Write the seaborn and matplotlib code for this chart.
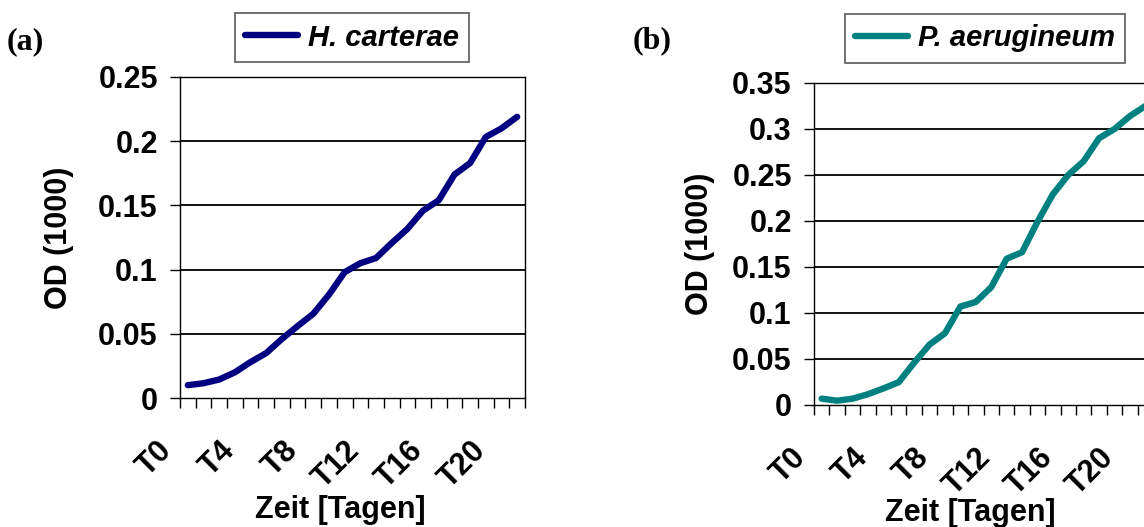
import numpy as np
import pandas as pd
import matplotlib
matplotlib.use("Agg")
import matplotlib.pyplot as plt
import matplotlib.transforms as mtransforms
import seaborn as sns

# Sampling days
days = ["T0", "T1", "T2", "T3", "T4", "T5", "T6", "T7", "T8", "T9", "T10",
        "T11", "T12", "T13", "T14", "T15", "T16", "T17", "T18", "T19", "T20", "T21"]
shown_days = ["T0", "T4", "T8", "T12", "T16", "T20"]

# Optical density readings per culture
h_carterae = [0.010, 0.0115, 0.0144, 0.020, 0.028, 0.035, 0.046, 0.056, 0.0656, 0.0805,
              0.098, 0.105, 0.109, 0.1207, 0.1317, 0.146, 0.154, 0.174, 0.183, 0.2033,
              0.210, 0.219]
p_aerugineum = [0.0069, 0.0047, 0.0069, 0.0117, 0.018, 0.0248, 0.046, 0.0657, 0.078, 0.107,
                0.112, 0.128, 0.159, 0.166, 0.199, 0.229, 0.250, 0.265, 0.290, 0.300,
                0.314, 0.325]

yticks_a = [0, 0.05, 0.1, 0.15, 0.2, 0.25]
ylabels_a = ["0", "0.05", "0.1", "0.15", "0.2", "0.25"]
yticks_b = [0, 0.05, 0.1, 0.15, 0.2, 0.25, 0.3, 0.35]
ylabels_b = ["0", "0.05", "0.1", "0.15", "0.2", "0.25", "0.3", "0.35"]

sns.set_theme(style="white")
plt.rcParams["font.family"] = ["Liberation Sans", "DejaVu Sans"]
plt.rcParams["font.weight"] = "bold"
for key in ("text.color", "axes.labelcolor", "xtick.color", "ytick.color"):
    plt.rcParams[key] = "black"

W, H = 1144, 527
fig = plt.figure(figsize=(W / 100, H / 100), dpi=100)


def px_axes(x0, y0, x1, y1):
    return fig.add_axes([x0 / W, 1 - y1 / H, (x1 - x0) / W, (y1 - y0) / H])


ax_a = px_axes(180, 77, 525, 398)
ax_b = px_axes(814, 83, 1153, 405)

panels = [
    (ax_a, h_carterae, "#000080", "H. carterae", yticks_a, ylabels_a, (352, 37.5), "(a)", (7, 42)),
    (ax_b, p_aerugineum, "#008080", "P. aerugineum", yticks_b, ylabels_b, (985, 38.5), "(b)", (633, 41)),
]

FS = 22

for ax, values, color, name, yt, yl, leg_c, tag, tag_pos in panels:
    df = pd.DataFrame({"Tag": days, "OD": values})
    sns.lineplot(data=df, x="Tag", y="OD", ax=ax, color=color, linewidth=4.6,
                 solid_capstyle="round", label=name, sort=False)

    ax.set_xlim(-0.5, len(days) - 0.5)
    ax.set_ylim(yt[0], yt[-1])
    ax.set_yticks(yt)
    ax.set_yticklabels(yl, fontsize=FS, fontweight="bold")
    ax.grid(False)
    for v in yt[1:]:
        ax.axhline(v, color="black", linewidth=1.3, zorder=1)

    # category labels at bin centres, tick marks on the bin edges
    ax.set_xticks(range(len(days)))
    ax.set_xticklabels([d if d in shown_days else "" for d in days],
                       fontsize=FS, fontweight="bold", rotation=45,
                       ha="right", va="top", rotation_mode="anchor")
    ax.set_xticks(np.arange(-0.5, len(days), 1.0), minor=True)
    ax.tick_params(axis="x", which="major", length=0, pad=27)
    ax.tick_params(axis="x", which="minor", length=7, width=1.0, color="black",
                   direction="out", bottom=True)
    ax.tick_params(axis="y", which="major", length=7, width=1.0, color="black",
                   direction="out", left=True, pad=9)
    shift = mtransforms.ScaledTranslation(-0.31, 0, fig.dpi_scale_trans)
    for lab in ax.get_xticklabels():
        lab.set_transform(lab.get_transform() + shift)

    for s in ax.spines.values():
        s.set_visible(True)
        s.set_color("black")
        s.set_linewidth(1.0)

    ax.set_xlabel("Zeit [Tagen]", fontsize=FS, fontweight="bold")
    ax.set_ylabel("OD (1000)", fontsize=FS, fontweight="bold")

    leg = ax.legend(loc="center", bbox_to_anchor=(leg_c[0] / W, 1 - leg_c[1] / H),
                    bbox_transform=fig.transFigure, frameon=True, fancybox=False,
                    prop={"size": 21, "weight": "bold", "style": "italic"},
                    handlelength=1.8, handletextpad=0.35, borderpad=0.36,
                    borderaxespad=0)
    leg.get_frame().set_edgecolor("#404040")
    leg.get_frame().set_linewidth(1.3)
    for t in leg.get_texts():
        t.set_color("black")

    fig.text(tag_pos[0] / W, 1 - tag_pos[1] / H, tag, ha="left", va="center",
             fontsize=23, fontweight="bold", family=["Liberation Serif", "DejaVu Serif"])

ax_a.xaxis.set_label_coords((340 - 180) / 345, -(495 - 398) / 321)
ax_b.xaxis.set_label_coords((970 - 814) / 339, -(498 - 405) / 322)
ax_a.yaxis.set_label_coords(-(180 - 74) / 345, 0.5)
ax_b.yaxis.set_label_coords(-(814 - 715) / 339, 0.5)
ax_a.xaxis.label.set_va("top")
ax_b.xaxis.label.set_va("top")

fig.savefig("out.png", dpi=100)
